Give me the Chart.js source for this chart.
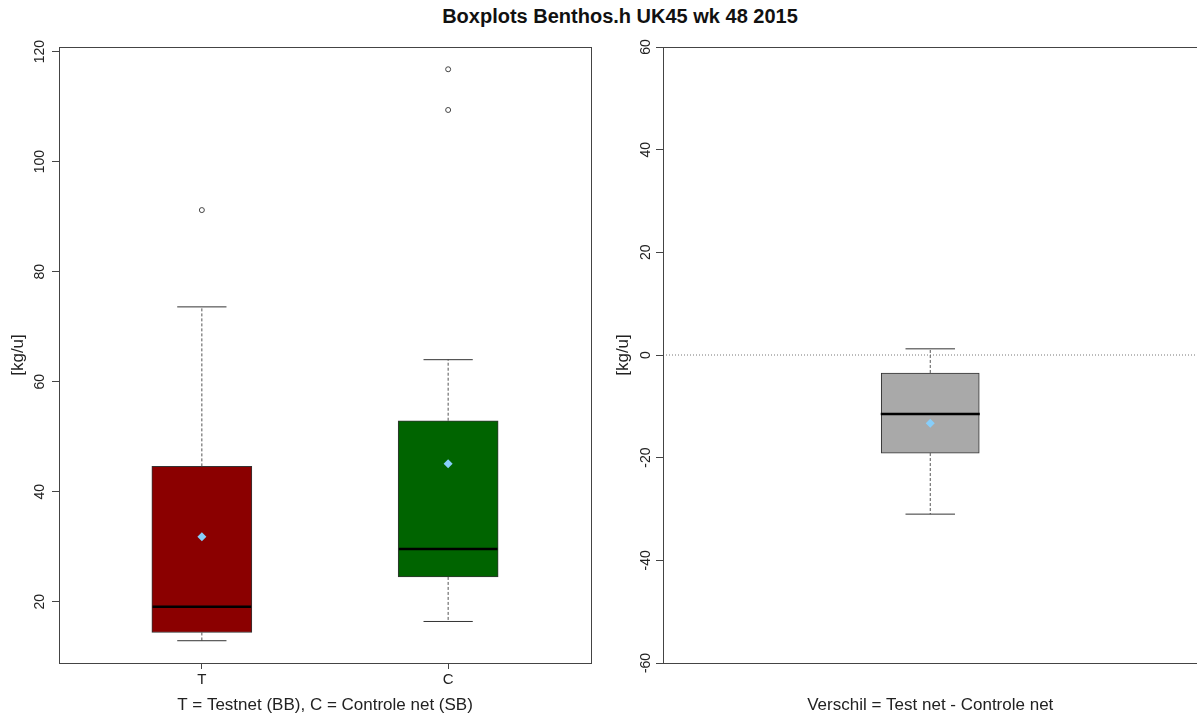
<!DOCTYPE html>
<html>
<head>
<meta charset="utf-8">
<script src="https://cdn.jsdelivr.net/npm/chart.js@4.4.1/dist/chart.umd.min.js"></script>
<style>
  html, body { margin: 0; padding: 0; background: #fff; overflow: hidden; }
  body { width: 1197px; height: 722px; position: relative; font-family: "Liberation Sans", Arial, sans-serif; }
  #title { position: absolute; top: 5px; left: 0; width: 1240px; text-align: center; font-weight: bold; font-size: 20px; color: #111; }
  #leftWrap { position: absolute; left: 0; top: 0; width: 598px; height: 722px; }
  #rightWrap { position: absolute; left: 598px; top: 0; width: 604px; height: 722px; }
</style>
</head>
<body>
<div id="title">Boxplots Benthos.h UK45 wk 48 2015</div>
<div id="leftWrap"><canvas id="leftChart"></canvas></div>
<div id="rightWrap"><canvas id="rightChart"></canvas></div>
<script>
// left panel: T = Testnet (BB), C = Controle net (SB)
const groups = ['T', 'C'];
const groupColors = ['#8B0000', '#006400'];
const whiskerLow = [12.9, 16.4];
const q1 = [14.4, 24.5];
const median = [19.1, 29.6];
const q3 = [44.6, 52.9];
const whiskerHigh = [73.6, 64.0];
const means = [31.8, 45.1];
const outliersT = [91.2];
const outliersC = [109.4, 116.8];
const leftTicks = [20, 40, 60, 80, 100, 120];

// right panel: Verschil = Test net - Controle net
const diffWhiskerLow = [-31.0];
const diffQ1 = [-19.1];
const diffMedian = [-11.5];
const diffQ3 = [-3.5];
const diffWhiskerHigh = [1.2];
const diffMean = [-13.3];
const diffRefLine = 0;
const rightTicks = [-60, -40, -20, 0, 20, 40, 60];

const FONT = '"Liberation Sans", Arial, sans-serif';
Chart.defaults.font.family = FONT;
Chart.defaults.color = '#222';

// frame around the plot region, like R's box()
const frame = {
  id: 'frame',
  afterDatasetsDraw(chart) {
    const a = chart.chartArea, ctx = chart.ctx;
    ctx.save();
    ctx.strokeStyle = '#444';
    ctx.lineWidth = 1;
    ctx.strokeRect(Math.round(a.left) + 0.5, Math.round(a.top) + 0.5,
      Math.round(a.right - a.left), Math.round(a.bottom - a.top));
    ctx.restore();
  }
};

function boxDatasets(xs, lo, b1, med, b3, hi, mn, colors, capHalf, thickness) {
  const whisk = [], caps = [], meds = [], bars = [];
  xs.forEach((x, i) => {
    bars.push({ x, y: [b1[i], b3[i]] });
    whisk.push({ x, y: b3[i] }, { x, y: hi[i] }, { x, y: null });
    whisk.push({ x, y: b1[i] }, { x, y: lo[i] }, { x, y: null });
    caps.push({ x: x - capHalf, y: hi[i] }, { x: x + capHalf, y: hi[i] }, { x, y: null });
    caps.push({ x: x - capHalf, y: lo[i] }, { x: x + capHalf, y: lo[i] }, { x, y: null });
    meds.push({ x: x - capHalf * 2, y: med[i] }, { x: x + capHalf * 2, y: med[i] }, { x, y: null });
  });
  return [
    { type: 'bar', data: bars, backgroundColor: colors, borderColor: '#333', borderWidth: 1,
      borderSkipped: false, barThickness: thickness, order: 10 },
    { type: 'line', data: whisk, borderColor: '#555', borderWidth: 1, borderDash: [3, 2],
      pointRadius: 0, spanGaps: false, order: 9 },
    { type: 'line', data: caps, borderColor: '#333', borderWidth: 1, pointRadius: 0, spanGaps: false, order: 8 },
    { type: 'line', data: meds, borderColor: '#000', borderWidth: 2.5, pointRadius: 0, spanGaps: false, order: 3 },
    { type: 'scatter', data: xs.map((x, i) => ({ x, y: mn[i] })), pointStyle: 'rectRot', pointRadius: 4.5,
      backgroundColor: '#87CEFA', borderWidth: 0, order: 1 }
  ];
}

function yScale(min, max, ticks, width, titlePad) {
  return {
    type: 'linear', min, max,
    afterBuildTicks: s => { s.ticks = ticks.map(v => ({ value: v })); },
    afterFit: s => { s.width = width; },
    ticks: { minRotation: 90, maxRotation: 90, crossAlign: 'center', padding: 0, font: { size: 14 }, color: '#222' },
    grid: { drawOnChartArea: false, drawTicks: true, tickLength: 7, tickColor: '#444' },
    border: { display: false },
    title: { display: true, text: '[kg/u]', font: { size: 17 }, color: '#222', padding: { top: titlePad, bottom: 0 } }
  };
}

const leftDatasets = boxDatasets([1, 2], whiskerLow, q1, median, q3, whiskerHigh, means, groupColors, 0.1, 100);
leftDatasets.push({
  type: 'scatter',
  data: outliersT.map(y => ({ x: 1, y })).concat(outliersC.map(y => ({ x: 2, y }))),
  pointStyle: 'circle', pointRadius: 2.5, backgroundColor: 'rgba(0,0,0,0)', borderColor: '#444', borderWidth: 1, order: 2
});

new Chart(document.getElementById('leftChart'), {
  data: { datasets: leftDatasets },
  plugins: [frame],
  options: {
    responsive: true, maintainAspectRatio: false, animation: false,
    layout: { padding: { top: 47, right: 7, left: 0, bottom: 0 } },
    plugins: { legend: { display: false }, tooltip: { enabled: false } },
    scales: {
      x: {
        type: 'linear', min: 0.42, max: 2.58, offset: false,
        afterBuildTicks: s => { s.ticks = [{ value: 1 }, { value: 2 }]; },
        afterFit: s => { s.height = 59; },
        ticks: { callback: v => groups[v - 1], font: { size: 15 }, color: '#222', padding: 2, maxRotation: 0 },
        grid: { offset: false, drawOnChartArea: false, drawTicks: true, tickLength: 6, tickColor: '#444' },
        border: { display: false },
        title: { display: true, text: 'T = Testnet (BB), C = Controle net (SB)', font: { size: 17 }, color: '#222', padding: { top: 0, bottom: 6 } }
      },
      y: yScale(8.85, 120.85, leftTicks, 59, 8)
    }
  }
});

const rightDatasets = boxDatasets([1], diffWhiskerLow, diffQ1, diffMedian, diffQ3, diffWhiskerHigh, diffMean, ['#A9A9A9'], 0.05, 98);
rightDatasets.push({
  type: 'line', data: [{ x: 0.46, y: diffRefLine }, { x: 1.54, y: diffRefLine }],
  borderColor: '#777', borderWidth: 1, borderDash: [1, 2], pointRadius: 0, order: 11
});

new Chart(document.getElementById('rightChart'), {
  data: { datasets: rightDatasets },
  plugins: [frame],
  options: {
    responsive: true, maintainAspectRatio: false, animation: false,
    layout: { padding: { top: 47, right: 1, left: 0, bottom: 0 } },
    plugins: { legend: { display: false }, tooltip: { enabled: false } },
    scales: {
      x: {
        type: 'linear', min: 0.46, max: 1.54, offset: false,
        afterFit: s => { s.height = 59; },
        ticks: { display: false },
        grid: { display: false, offset: false },
        border: { display: false },
        title: { display: true, text: 'Verschil = Test net - Controle net', font: { size: 17 }, color: '#222', padding: { top: 0, bottom: 6 } }
      },
      y: yScale(-60, 60, rightTicks, 65, 15)
    }
  }
});
</script>
</body>
</html>
